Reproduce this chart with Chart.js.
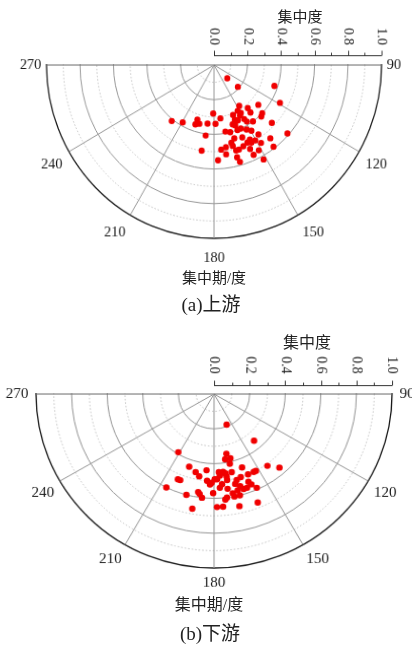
<!DOCTYPE html>
<html lang="zh">
<head>
<meta charset="utf-8">
<title>集中度与集中期</title>
<script src="https://cdn.jsdelivr.net/npm/chart.js@4.4.1/dist/chart.umd.min.js"></script>
<style>
  html, body { margin: 0; padding: 0; background: #fff; }
  body { position: relative; width: 412px; height: 647px; overflow: hidden; }
  canvas { position: absolute; left: 0; top: 0; }
  .lbl { position: absolute; transform: translate(-50%, -50%); white-space: nowrap; color: #222;
         font-family: "Liberation Serif", "Noto Sans CJK SC", serif; line-height: 1; }
</style>
</head>
<body>
<canvas id="upper" width="412" height="410"></canvas>
<canvas id="lower" width="412" height="410"></canvas>

<div class="lbl" style="left:300px;top:17px;font-size:15px">集中度</div>
<div class="lbl" style="left:214px;top:278px;font-size:15px">集中期/度</div>
<div class="lbl" style="left:211px;top:304px;font-size:19px">(a)上游</div>

<div class="lbl" style="left:307px;top:343px;font-size:16px">集中度</div>
<div class="lbl" style="left:209px;top:605px;font-size:16px">集中期/度</div>
<div class="lbl" style="left:210px;top:633px;font-size:19px">(b)下游</div>

<script>
// 集中期 in degrees (0 at top, clockwise) and 集中度 (0–1), one entry per station
const upperAngles = [134, 131.5, 108.5, 119, 218, 209.5, 181, 147.5, 131, 141,
                     141.5, 150, 152, 158.5, 134, 136.5, 197.5, 198, 194.5, 186.5,
                     178.5, 173, 158.5, 156, 149, 152, 150, 134, 144.5, 160,
                     156.5, 152.5, 159.5, 170, 166, 187, 132, 141.5, 149.5, 146.5,
                     164, 158, 153.5, 153.5, 148, 143, 188.5, 175, 171.5, 166.5,
                     163, 165, 159.5, 156, 155.5, 151.5, 177.5, 164.5, 151.5, 172,
                     165.5, 167, 156, 162, 150.5];
const upperValues = [0.11, 0.19, 0.38, 0.45, 0.41, 0.38, 0.28, 0.28, 0.35, 0.32,
                     0.35, 0.32, 0.30, 0.31, 0.40, 0.41, 0.33, 0.36, 0.35, 0.34,
                     0.34, 0.31, 0.34, 0.35, 0.38, 0.33, 0.36, 0.48, 0.40, 0.37,
                     0.40, 0.42, 0.40, 0.39, 0.40, 0.41, 0.59, 0.54, 0.44, 0.48,
                     0.44, 0.45, 0.48, 0.50, 0.53, 0.59, 0.50, 0.49, 0.48, 0.48,
                     0.51, 0.51, 0.50, 0.53, 0.57, 0.56, 0.55, 0.58, 0.62, 0.52,
                     0.55, 0.46, 0.49, 0.36, 0.50];

const lowerAngles = [158, 140, 211, 168.5, 170.5, 166, 167.5, 198.5, 193, 185.5,
                     173.5, 172, 167.5, 159.5, 144, 139, 152, 153.5, 190, 202.5,
                     201, 176, 178, 171.5, 171.5, 165.5, 162.5, 157.5, 184.5, 181.5,
                     179.5, 182.5, 175, 159, 158, 164.5, 206.5, 176.5, 172, 161,
                     156, 166.5, 163, 189, 188, 195, 180.5, 169.5, 169, 173,
                     166, 186.5, 174, 158.5, 190.5, 178.5, 175.5, 167.5, 176.5, 167];
const lowerValues = [0.19, 0.35, 0.39, 0.35, 0.38, 0.38, 0.41, 0.44, 0.46, 0.44,
                     0.45, 0.46, 0.46, 0.45, 0.51, 0.56, 0.50, 0.50, 0.48, 0.53,
                     0.53, 0.47, 0.49, 0.48, 0.50, 0.51, 0.50, 0.50, 0.50, 0.51,
                     0.49, 0.52, 0.52, 0.54, 0.56, 0.55, 0.60, 0.54, 0.55, 0.57,
                     0.59, 0.57, 0.57, 0.57, 0.58, 0.60, 0.57, 0.58, 0.60, 0.60,
                     0.60, 0.60, 0.61, 0.67, 0.67, 0.65, 0.65, 0.66, 0.45, 0.53];

// angular tick labels (集中期/度) and labelled radial ticks (集中度)
const angleTicks = [90, 120, 150, 180, 210, 240, 270];
const radialTicks = [0, 0.2, 0.4, 0.6, 0.8, 1.0];
const radialMinorStep = 0.1;

// the radar scale has one label slot per half degree; only the angle ticks carry text
const SLOTS_PER_DEG = 2;
const SLOT_COUNT = 360 * SLOTS_PER_DEG;
const slotLabels = Array.from({ length: SLOT_COUNT }, (_, i) => {
  const d = i / SLOTS_PER_DEG;
  return angleTicks.includes(d) ? String(d) : '';
});

// spread the stations over as few datasets as needed so that no two share a slot
function buildDatasets(angles, values) {
  const sets = [];
  angles.forEach((a, k) => {
    const idx = Math.round(a * SLOTS_PER_DEG) % SLOT_COUNT;
    let ds = sets.find(s => s.data[idx] === null);
    if (!ds) {
      ds = {
        data: new Array(SLOT_COUNT).fill(null),
        showLine: false,
        fill: false,
        pointRadius: 3.2,
        pointHoverRadius: 3.2,
        pointBorderWidth: 0,
        pointBackgroundColor: 'rgb(240,0,0)',
        borderColor: 'rgb(240,0,0)'
      };
      sets.push(ds);
    }
    ds.data[idx] = values[k];
  });
  return sets;
}

// keeps only the lower half of the polar frame and draws the 集中度 axis above it
const halfPolar = {
  id: 'halfPolar',
  beforeDraw(chart) {
    const s = chart.scales.r, ctx = chart.ctx;
    const x = s.xCenter, y = s.yCenter, R = s.drawingArea;
    ctx.save();
    ctx.beginPath();
    ctx.rect(0, y - 1, chart.width, chart.height);
    ctx.rect(0, y - 14, x - R - 2, 14);
    ctx.rect(x + R + 2, y - 14, chart.width, 14);
    ctx.clip();
  },
  afterDraw(chart, args, opts) {
    const ctx = chart.ctx, s = chart.scales.r;
    ctx.restore();
    const y0 = Math.round(s.yCenter - opts.gap) + 0.5;
    ctx.save();
    ctx.strokeStyle = '#333';
    ctx.lineWidth = 1;
    ctx.beginPath();
    ctx.moveTo(s.xCenter, y0);
    ctx.lineTo(s.xCenter + s.drawingArea, y0);
    const nMinor = Math.round(1 / radialMinorStep);
    for (let k = 0; k <= nMinor; k++) {
      const v = k * radialMinorStep;
      const x = Math.round(s.xCenter + s.getDistanceFromCenterForValue(v)) + 0.5;
      const major = radialTicks.some(t => Math.abs(t - v) < 1e-6);
      ctx.moveTo(x, y0);
      ctx.lineTo(x, y0 - (major ? 5 : 3));
    }
    ctx.stroke();
    ctx.fillStyle = '#222';
    ctx.font = '14px "Liberation Serif"';
    ctx.textAlign = 'center';
    ctx.textBaseline = 'middle';
    radialTicks.forEach(v => {
      const x = s.xCenter + s.getDistanceFromCenterForValue(v);
      ctx.save();
      ctx.translate(x, s.yCenter - opts.labelOffset);
      ctx.rotate(Math.PI / 2);
      ctx.fillText(v.toFixed(1), 0, 0);
      ctx.restore();
    });
    ctx.restore();
  }
};

function tenth(v) { return Math.round(v * 10); }

function makePanel(id, angles, values, layout) {
  const chart = new Chart(document.getElementById(id), {
    type: 'radar',
    data: { labels: slotLabels, datasets: buildDatasets(angles, values) },
    options: {
      responsive: false,
      animation: false,
      devicePixelRatio: 1,
      layout: { padding: 0 },
      plugins: {
        legend: { display: false },
        tooltip: { enabled: false },
        halfPolar: { gap: layout.axisGap, labelOffset: layout.labelOffset }
      },
      scales: {
        r: {
          min: 0,
          max: 1,
          startAngle: 0,
          ticks: { display: false, stepSize: radialMinorStep },
          grid: {
            circular: true,
            color: c => tenth(c.tick.value) === 10 ? '#1a1a1a' : (tenth(c.tick.value) % 2 === 0 ? '#959595' : '#c0c0c0'),
            lineWidth: c => tenth(c.tick.value) === 10 ? 1.3 : 1
          },
          border: {
            dash: c => (tenth(c.tick.value) % 2 === 1 ? [1.5, 2] : [])
          },
          angleLines: {
            display: true,
            color: c => (c.label === '90' || c.label === '270') ? '#666' : '#959595',
            lineWidth: c => c.label ? 1 : 0
          },
          pointLabels: {
            display: true,
            color: '#1a1a1a',
            font: c => c.label ? { family: '"Liberation Serif"', size: 15 } : { size: 1 },
            padding: c => c.label ? layout.pads[c.label] : 0
          }
        }
      }
    },
    plugins: [halfPolar]
  });

  // put the pole where the panel wants it and stretch the frame to its radii
  const s = chart.scales.r;
  const cv = chart.canvas;
  cv.style.left = (layout.cx - s.xCenter) + 'px';
  cv.style.top = (layout.cy - s.yCenter) + 'px';
  cv.style.transformOrigin = s.xCenter + 'px ' + s.yCenter + 'px';
  cv.style.transform = 'scale(' + (layout.rx / s.drawingArea) + ',' + (layout.ry / s.drawingArea) + ')';
  return chart;
}

makePanel('upper', upperAngles, upperValues, {
  cx: 214, cy: 65, rx: 167.5, ry: 173.3, axisGap: 9.7, labelOffset: 29,
  pads: { '90': 5.5, '270': 5.5, '120': 8, '240': 8, '150': 10, '210': 10, '180': 11 }
});
makePanel('lower', lowerAngles, lowerValues, {
  cx: 214, cy: 394.3, rx: 178, ry: 174, axisGap: 9.3, labelOffset: 29.3,
  pads: { '90': 7.5, '270': 7.5, '120': 6.5, '240': 6.5, '150': 6.5, '210': 6.5, '180': 6.3 }
});
</script>
</body>
</html>
